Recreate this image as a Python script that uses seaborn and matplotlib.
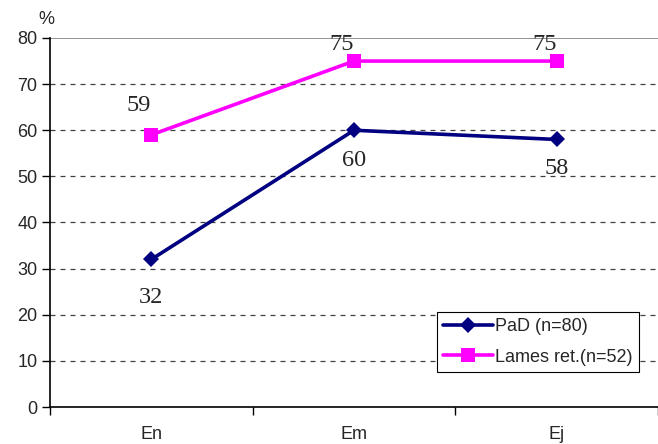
import matplotlib
matplotlib.use("Agg")
import matplotlib.pyplot as plt
import seaborn as sns
import pandas as pd

categories = ["En", "Em", "Ej"]
pad_values = [32, 60, 58]
lames_values = [59, 75, 75]
series_names = ["PaD (n=80)", "Lames ret.(n=52)"]
y_ticks = [0, 10, 20, 30, 40, 50, 60, 70, 80]

df = pd.DataFrame({
    "cat": categories * 2,
    "val": pad_values + lames_values,
    "series": [series_names[0]] * 3 + [series_names[1]] * 3,
})

sns.set_theme(style="white")
plt.rcParams["font.family"] = ["Liberation Sans", "DejaVu Sans"]

fig = plt.figure(figsize=(6.58, 4.44), dpi=100)
ax = fig.add_axes([50 / 658, 37 / 444, 608 / 658, 369 / 444])

palette = {series_names[0]: "#000080", series_names[1]: "#FF00FF"}
markers = {series_names[0]: "D", series_names[1]: "s"}
sns.lineplot(data=df, x="cat", y="val", hue="series", style="series",
             markers=markers, dashes=False, palette=palette, ax=ax,
             linewidth=2.6, markersize=9, markeredgewidth=0, legend=True)
for line in ax.lines:
    if line.get_marker() == "s":
        line.set_markersize(9.5)
    elif line.get_marker() == "D":
        line.set_markersize(8.5)

ax.set_xlim(-0.5, 2.5)
ax.set_ylim(0, 80)
ax.set_yticks(y_ticks)
ax.set_yticklabels([str(t) for t in y_ticks], fontsize=13)

for t in y_ticks[1:-1]:
    ax.axhline(t, color="#404040", linestyle=(0, (4, 4)), linewidth=0.9, zorder=0)
ax.axhline(80, color="#808080", linewidth=1.2, zorder=0)

ax.set_xticks(range(len(categories)))
ax.set_xticklabels(categories, fontsize=13)
ax.tick_params(axis="x", which="major", length=0, pad=14)
ax.set_xticks([-0.5, 0.5, 1.5, 2.5], minor=True)
ax.tick_params(axis="x", which="minor", length=6, width=1, color="black", direction="out", bottom=True)
ax.tick_params(axis="y", length=6, width=1, color="black", direction="out", left=True, pad=3)
ax.set_xlabel("")
ax.set_ylabel("")

for s in ["top", "right"]:
    ax.spines[s].set_visible(False)
for s in ["left", "bottom"]:
    ax.spines[s].set_color("black")
    ax.spines[s].set_linewidth(1.2)

pad_offsets = [-38, -30, -29]
lames_offsets = [29, 17, 17]
serif = ["Liberation Serif", "DejaVu Serif"]
for i, (v, off) in enumerate(zip(pad_values, pad_offsets)):
    ax.annotate(str(v), (i, v), xytext=(0, off * 0.72), textcoords="offset points",
                ha="center", va="center", fontsize=17.5, family=serif)
for i, (v, off) in enumerate(zip(lames_values, lames_offsets)):
    ax.annotate(str(v), (i, v), xytext=(-9, off * 0.72), textcoords="offset points",
                ha="center", va="center", fontsize=17.5, family=serif, annotation_clip=False)

fig.text(46 / 658, 1 - 20 / 444, "%", ha="center", va="center", fontsize=13)

leg = ax.legend(loc="lower right", bbox_to_anchor=((639 - 50) / 608, (407 - 372) / 369),
                borderaxespad=0, fontsize=13, frameon=True, fancybox=False,
                handlelength=2.8, handletextpad=0.1, borderpad=0.35, labelspacing=0.75)
leg.get_frame().set_edgecolor("black")
leg.get_frame().set_linewidth(0.8)
leg.get_frame().set_facecolor("white")
leg.get_frame().set_alpha(1)

fig.savefig("out.png", dpi=100)
